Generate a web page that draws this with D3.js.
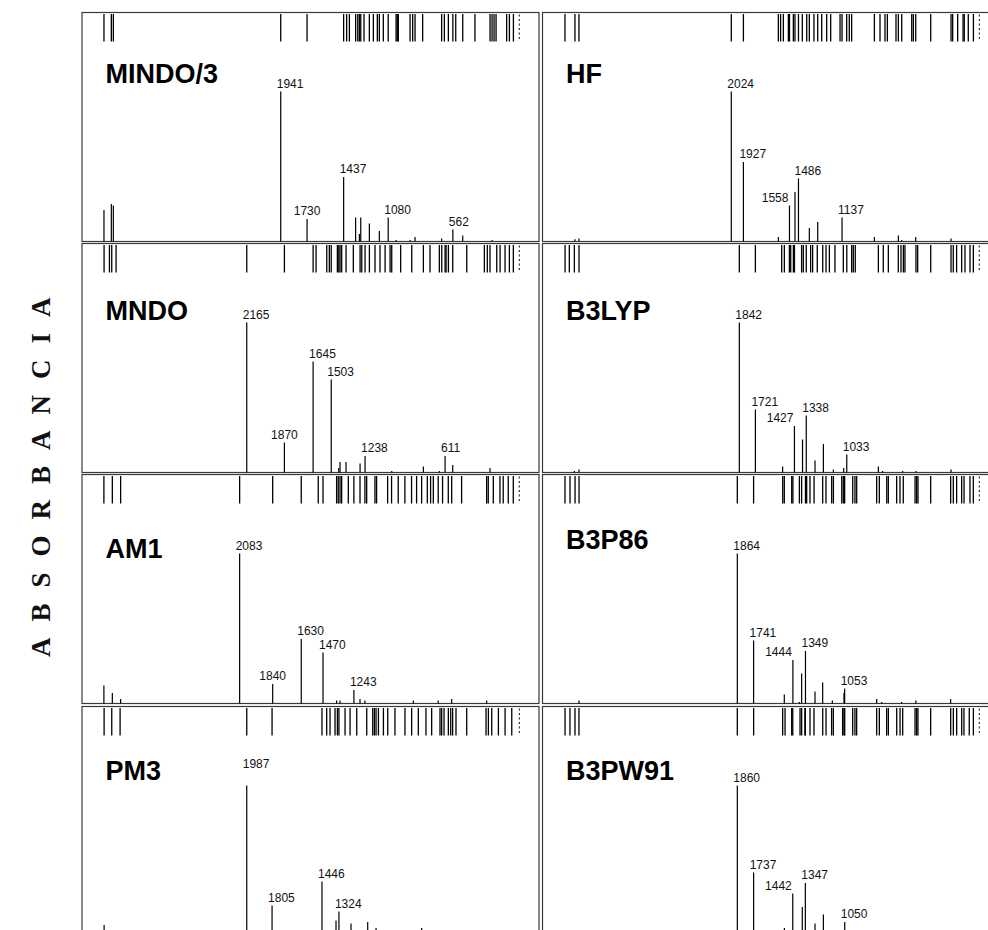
<!DOCTYPE html>
<html>
  <head>
    <meta charset="utf-8">
    <title>Espectros IR</title>
    <script src="https://d3js.org/d3.v7.min.js"></script>
    <style>
      body { margin: 0; background: #fff; }
    </style>
  </head>
  <body>
    <svg id="grafico"></svg>
    <script>
      // nombres de los metodos, en el orden de los paneles (fila por fila)
      var metodos = ["MINDO/3", "HF", "MNDO", "B3LYP", "AM1", "B3P86", "PM3", "B3PW91"];

      // numero de onda (cm-1) en los bordes izquierdo y derecho de cada panel
      var dominios = [[3533, -128], [3536, -124], [3456, -125], [3324, -117],
                      [3242, -118], [3336, -117], [3172, -115], [3329, -117]];

      // modo mas bajo de cada panel (linea punteada)
      var modosBajos = [30, 37, 29, 35, 27, 35, 26, 35];

      // frecuencias de todos los modos calculados (barra de arriba)
      var modosMINDO3 = [3357, 3298, 3282, 1941, 1730, 1437, 1413, 1391, 1341, 1324, 1311, 1300, 1274, 1231, 1199, 1167, 1151, 1119, 1080, 1017, 1007, 999, 905, 884, 865, 804, 652, 630, 598, 562, 539, 483, 385, 264, 248, 232, 216, 131, 109, 77];
      var modosHF = [3356, 3276, 3244, 2024, 1927, 1647, 1629, 1607, 1567, 1558, 1527, 1514, 1486, 1455, 1420, 1399, 1362, 1332, 1300, 1260, 1228, 1153, 1137, 1100, 1079, 1060, 878, 833, 793, 774, 705, 686, 659, 579, 566, 547, 427, 264, 251, 211, 168, 158, 126, 85];
      var modosMNDO = [3283, 3241, 3223, 3189, 2165, 1870, 1645, 1622, 1538, 1518, 1503, 1455, 1444, 1434, 1421, 1387, 1330, 1277, 1264, 1238, 1204, 1160, 1121, 1081, 1042, 1029, 959, 872, 781, 729, 656, 637, 611, 603, 585, 551, 441, 303, 280, 259, 206, 180, 141, 107, 76];
      var modosB3LYP = [3154, 3122, 3084, 3049, 1842, 1721, 1523, 1503, 1465, 1455, 1435, 1427, 1373, 1360, 1338, 1305, 1290, 1255, 1214, 1189, 1164, 1122, 1059, 1033, 996, 984, 969, 795, 758, 720, 645, 625, 607, 595, 512, 499, 401, 248, 231, 206, 168, 143, 105, 80];
      var modosAM1 = [3081, 3019, 2958, 2083, 1840, 1630, 1505, 1470, 1370, 1358, 1345, 1333, 1284, 1243, 1198, 1162, 1149, 1088, 1076, 995, 966, 917, 868, 819, 782, 745, 703, 679, 659, 623, 591, 549, 524, 451, 267, 255, 218, 169, 145, 108, 71];
      var modosB3P86 = [3166, 3128, 3090, 3060, 1864, 1741, 1521, 1509, 1453, 1444, 1395, 1378, 1349, 1340, 1315, 1284, 1219, 1194, 1151, 1138, 1075, 1063, 1053, 992, 975, 962, 811, 791, 735, 723, 660, 635, 610, 521, 509, 499, 403, 252, 232, 207, 169, 151, 106, 81];
      var modosPM3 = [3013, 2958, 2898, 1987, 1805, 1446, 1412, 1388, 1352, 1335, 1324, 1280, 1244, 1196, 1124, 1081, 1069, 1057, 1040, 1004, 973, 921, 849, 801, 753, 698, 657, 597, 585, 568, 537, 520, 506, 482, 405, 266, 249, 225, 177, 129, 81];
      var modosB3PW91 = [3159, 3122, 3084, 3054, 1860, 1737, 1518, 1500, 1450, 1442, 1387, 1375, 1350, 1347, 1312, 1282, 1216, 1191, 1149, 1136, 1066, 1056, 1050, 990, 973, 960, 809, 789, 734, 721, 658, 633, 613, 520, 508, 498, 402, 251, 231, 206, 168, 151, 111, 80];

      // espectros de barras: [frecuencia, intensidad relativa %]
      var barrasMINDO3 = [[3357, 21], [3298, 25], [3282, 24], [1941, 100], [1730, 15], [1437, 43], [1341, 16], [1311, 5], [1300, 16], [1231, 12], [1151, 7], [1080, 16], [1017, 1], [905, 1], [865, 3], [652, 2], [562, 8], [483, 4], [248, 1]];
      var barrasHF = [[3276, 1.5], [3244, 2], [2024, 100], [1927, 53], [1647, 3], [1558, 24], [1514, 33], [1486, 42], [1399, 9], [1332, 13], [1137, 16], [878, 3], [686, 4], [659, 1], [547, 3], [264, 2]];
      var barrasMNDO = [[2165, 100], [1870, 20], [1645, 74], [1503, 62], [1444, 3], [1434, 7], [1387, 7], [1277, 6], [1238, 11], [1029, 1], [781, 4], [656, 1], [611, 11], [551, 5], [259, 3]];
      var barrasB3LYP = [[3084, 1], [3049, 2], [1842, 100], [1721, 42], [1516, 4], [1427, 31], [1366, 22], [1338, 38], [1272, 8], [1209, 19], [1134, 2], [1056, 3], [1033, 12], [795, 4], [763, 1], [612, 1], [512, 1], [248, 2]];
      var barrasAM1 = [[3081, 12], [3019, 7], [2958, 3], [2083, 100], [1840, 13], [1630, 43], [1470, 34], [1370, 2], [1345, 2], [1243, 9], [1198, 3], [1162, 2], [806, 2], [623, 2], [524, 3], [267, 2]];
      var barrasB3P86 = [[3060, 2], [1864, 100], [1741, 42], [1509, 6], [1444, 29], [1395, 1], [1378, 20], [1349, 35], [1277, 8], [1219, 14], [1146, 2], [1058, 7], [1053, 10], [811, 3], [773, 1], [623, 1], [515, 2], [252, 3]];
      var barrasPM3 = [[3013, 7], [1987, 100], [1805, 20], [1446, 36], [1345, 10], [1324, 16], [1237, 8], [1117, 9], [1057, 5], [729, 5]];
      var barrasB3PW91 = [[1860, 100], [1737, 42], [1505, 5], [1442, 28], [1370, 19], [1347, 35], [1274, 8], [1211, 14], [1050, 9]];

      // picos con etiqueta
      var etiquetasMINDO3 = [1941, 1730, 1437, 1080, 562];
      var etiquetasHF = [2024, 1927, 1558, 1486, 1137];
      var etiquetasMNDO = [2165, 1870, 1645, 1503, 1238, 611];
      var etiquetasB3LYP = [1842, 1721, 1427, 1338, 1033];
      var etiquetasAM1 = [2083, 1840, 1630, 1470, 1243];
      var etiquetasB3P86 = [1864, 1741, 1444, 1349, 1053];
      var etiquetasPM3 = [1987, 1805, 1446, 1324];
      var etiquetasB3PW91 = [1860, 1737, 1442, 1347, 1050];

      var ejeTitulo = "ABSORBANCIA";

      var paneles = [
        {modos: modosMINDO3, barras: barrasMINDO3, etiquetas: etiquetasMINDO3},
        {modos: modosHF, barras: barrasHF, etiquetas: etiquetasHF},
        {modos: modosMNDO, barras: barrasMNDO, etiquetas: etiquetasMNDO},
        {modos: modosB3LYP, barras: barrasB3LYP, etiquetas: etiquetasB3LYP},
        {modos: modosAM1, barras: barrasAM1, etiquetas: etiquetasAM1},
        {modos: modosB3P86, barras: barrasB3P86, etiquetas: etiquetasB3P86},
        {modos: modosPM3, barras: barrasPM3, etiquetas: etiquetasPM3},
        {modos: modosB3PW91, barras: barrasB3PW91, etiquetas: etiquetasB3PW91}
      ];

      // geometria de los paneles
      var columnas = [82, 542.5];
      var filas = [12.5, 243.5, 474.5, 706.5];
      var ancho = 457, alto = 229, altoMax = 150;
      var tituloDy = [70, 70, 76.5, 76.5, 83, 74, 73, 73.5];
      // etiquetas centradas o alineadas a la derecha de su barra
      var centradas = [1730, 1870, 1840];
      var aDerecha = [1558, 1427, 1444, 1442];
      var subida = {1987: 14};

      var svg = d3.select("#grafico")
                  .attr("width", 988)
                  .attr("height", 930);

      svg.append("rect").attr("width", 988).attr("height", 930).attr("fill", "#fff");

      paneles.forEach(function(p, i) {
        var izq = columnas[i % 2];
        var arriba = filas[Math.floor(i / 2)];
        var base = arriba + alto;

        var x = d3.scaleLinear().domain(dominios[i]).range([izq, izq + ancho]);
        var y = d3.scaleLinear().domain([0, 100]).range([base, base - altoMax]);

        var g = svg.append("g");

        g.append("rect")
          .attr("x", izq).attr("y", arriba)
          .attr("width", ancho).attr("height", alto)
          .attr("fill", "none")
          .attr("stroke", "#3a3a3a")
          .attr("stroke-width", 1.2);

        // barra de modos arriba
        g.selectAll("line.modo")
          .data(p.modos)
          .enter()
          .append("line")
          .attr("class", "modo")
          .attr("x1", function(d) { return x(d); })
          .attr("x2", function(d) { return x(d); })
          .attr("y1", arriba + 1.5)
          .attr("y2", arriba + 29)
          .attr("stroke", "#000")
          .attr("stroke-width", 1.3);

        g.append("line")
          .attr("x1", x(modosBajos[i])).attr("x2", x(modosBajos[i]))
          .attr("y1", arriba + 2).attr("y2", arriba + 29)
          .attr("stroke", "#333")
          .attr("stroke-width", 1.2)
          .attr("stroke-dasharray", "2,2.5");

        // espectro de barras
        g.selectAll("line.barra")
          .data(p.barras)
          .enter()
          .append("line")
          .attr("class", "barra")
          .attr("x1", function(d) { return x(d[0]); })
          .attr("x2", function(d) { return x(d[0]); })
          .attr("y1", base)
          .attr("y2", function(d) { return y(d[1]); })
          .attr("stroke", "#000")
          .attr("stroke-width", 1.2);

        // numeros sobre los picos
        var altura = {};
        p.barras.forEach(function(d) { altura[d[0]] = d[1]; });
        g.selectAll("text.etiqueta")
          .data(p.etiquetas)
          .enter()
          .append("text")
          .attr("class", "etiqueta")
          .attr("x", function(d) {
            if (centradas.indexOf(d) >= 0) return x(d);
            if (aDerecha.indexOf(d) >= 0) return x(d) - 1;
            return x(d) - 4;
          })
          .attr("y", function(d) { return y(altura[d]) - 4 - (subida[d] || 0); })
          .attr("text-anchor", function(d) {
            if (centradas.indexOf(d) >= 0) return "middle";
            if (aDerecha.indexOf(d) >= 0) return "end";
            return "start";
          })
          .attr("font-family", "Liberation Sans, Arial, sans-serif")
          .attr("font-size", 12)
          .attr("fill", "#111")
          .text(function(d) { return d; });

        g.append("text")
          .attr("x", izq + 23.5)
          .attr("y", arriba + tituloDy[i])
          .attr("font-family", "Liberation Sans, Arial, sans-serif")
          .attr("font-weight", "bold")
          .attr("font-size", 27)
          .attr("fill", "#000")
          .text(metodos[i]);
      });

      svg.append("text")
        .attr("transform", "translate(50,657) rotate(-90)")
        .attr("font-family", "Liberation Serif, Times New Roman, serif")
        .attr("font-weight", "bold")
        .attr("font-size", 27)
        .attr("letter-spacing", 16)
        .attr("fill", "#111")
        .text(ejeTitulo);
    </script>
  </body>
</html>
